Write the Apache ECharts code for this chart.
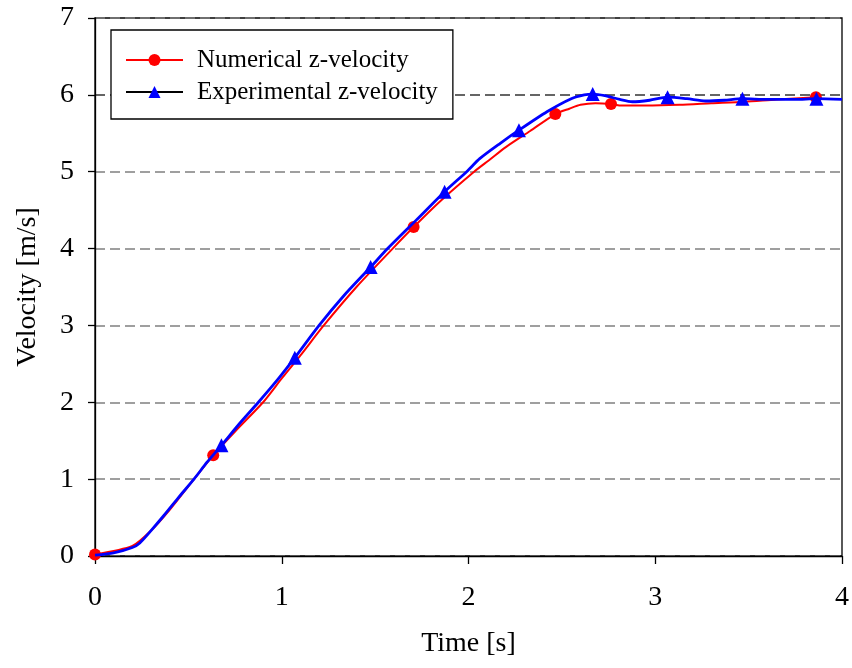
<!DOCTYPE html>
<html>
<head>
<meta charset="utf-8">
<script src="https://cdn.jsdelivr.net/npm/echarts@6/dist/echarts.min.js"></script>
<style>
html,body{margin:0;padding:0;background:#fff;}
#chart{width:852px;height:668px;}
</style>
</head>
<body>
<div id="chart"></div>
<script>
// Numerical z-velocity [time s, velocity m/s]
var numericalData = [[0,0.02],[0.2,0.13],[0.3,0.33],[0.4,0.6],[0.53,1.0],[0.633,1.31],[0.75,1.62],[0.9,2.0],[1.0,2.31],[1.1,2.61],[1.225,3.0],[1.4,3.5],[1.594,4.0],[1.706,4.28],[1.85,4.62],[2.03,5.0],[2.11,5.15],[2.2,5.32],[2.33,5.53],[2.465,5.75],[2.54,5.82],[2.6,5.87],[2.68,5.89],[2.763,5.88],[2.82,5.86],[2.95,5.86],[3.13,5.87],[3.3,5.89],[3.48,5.91],[3.65,5.94],[3.86,5.97]];
var numericalMarkerTimes = [0,0.633,1.706,2.465,2.763,3.86];
// Experimental z-velocity [time s, velocity m/s]
var experimentalData = [[0,0.01],[0.1,0.04],[0.2,0.11],[0.24,0.17],[0.3,0.33],[0.37,0.53],[0.45,0.77],[0.53,1.0],[0.6,1.22],[0.677,1.44],[0.78,1.74],[0.875,2.0],[0.98,2.3],[1.07,2.58],[1.2,3.0],[1.33,3.38],[1.476,3.76],[1.567,4.0],[1.72,4.37],[1.872,4.74],[1.99,5.0],[2.06,5.17],[2.17,5.37],[2.27,5.54],[2.42,5.78],[2.55,5.95],[2.62,6.0],[2.665,6.01],[2.73,5.99],[2.81,5.94],[2.877,5.91],[2.97,5.93],[3.066,5.97],[3.17,5.95],[3.27,5.92],[3.37,5.93],[3.467,5.95],[3.6,5.94],[3.75,5.94],[3.863,5.95],[4.0,5.94]];
var experimentalMarkerTimes = [0.677,1.07,1.476,1.872,2.27,2.665,3.066,3.467,3.863];
var xTicks = [0,1,2,3,4];
var yTicks = [0,1,2,3,4,5,6,7];

function withMarkers(data, markers, sym) {
  return data.map(function (p) {
    var isMarker = markers.some(function (m) { return Math.abs(m - p[0]) < 1e-6; });
    return isMarker ? { value: p, symbol: sym } : { value: p, symbol: 'none' };
  });
}

var font = '"Liberation Serif", "Times New Roman", serif';
var gridColors = ['#808080','#808080','#808080','#808080','#808080','#808080','#333333','#808080'];
var chart = echarts.init(document.getElementById('chart'), null, { renderer: 'canvas' });
chart.setOption({
  backgroundColor: '#fff',
  animation: false,
  grid: {
    left: 95, right: 9, top: 18, bottom: 112,
    show: true, borderColor: '#000', borderWidth: 1.3, backgroundColor: 'transparent'
  },
  legend: {
    orient: 'vertical',
    left: 111, top: 30,
    padding: [17, 15, 14, 14],
    backgroundColor: '#fff',
    borderColor: '#000',
    borderWidth: 1.3,
    borderRadius: 0,
    itemWidth: 57,
    itemHeight: 15,
    itemGap: 6,
    textStyle: { fontFamily: font, fontSize: 25, color: '#000', lineHeight: 26, padding: [0, 0, 0, 9] },
    data: [
      { name: 'Numerical z-velocity' },
      { name: 'Experimental z-velocity', lineStyle: { color: '#000', width: 2 } }
    ]
  },
  xAxis: {
    type: 'value',
    min: xTicks[0], max: xTicks[xTicks.length - 1], interval: 1,
    name: 'Time [s]', nameLocation: 'middle', nameGap: 74,
    nameTextStyle: { fontFamily: font, fontSize: 28, color: '#000' },
    axisLine: { show: true, lineStyle: { color: '#000', width: 1.3 } },
    axisTick: { show: true, length: 8, lineStyle: { color: '#000', width: 1.3 } },
    axisLabel: { fontFamily: font, fontSize: 28, color: '#000', margin: 28 },
    splitLine: { show: false }
  },
  yAxis: {
    type: 'value',
    min: yTicks[0], max: yTicks[yTicks.length - 1], interval: 1,
    name: 'Velocity [m/s]', nameLocation: 'middle', nameGap: 53,
    nameTextStyle: { fontFamily: font, fontSize: 28, color: '#000' },
    axisLine: { show: true, lineStyle: { color: '#000', width: 1.3 } },
    axisTick: { show: true, length: 7, lineStyle: { color: '#000', width: 1.3 } },
    axisLabel: { fontFamily: font, fontSize: 28, color: '#000', margin: 21 },
    splitLine: { show: true, lineStyle: { color: gridColors, width: 1.5, type: [10, 5] } }
  },
  series: [
    {
      name: 'Numerical z-velocity',
      type: 'line',
      z: 2,
      smooth: 0.25,
      symbol: 'circle',
      symbolSize: 12,
      showAllSymbol: true,
      color: '#ff0000',
      lineStyle: { color: '#ff0000', width: 2 },
      itemStyle: { color: '#ff0000' },
      data: withMarkers(numericalData, numericalMarkerTimes, 'circle')
    },
    {
      name: 'Experimental z-velocity',
      type: 'line',
      z: 3,
      smooth: 0.25,
      symbol: 'triangle',
      symbolSize: 14,
      showAllSymbol: true,
      color: '#0000ff',
      lineStyle: { color: '#0000ff', width: 2.8 },
      itemStyle: { color: '#0000ff' },
      data: withMarkers(experimentalData, experimentalMarkerTimes, 'triangle')
    }
  ]
});
</script>
</body>
</html>
